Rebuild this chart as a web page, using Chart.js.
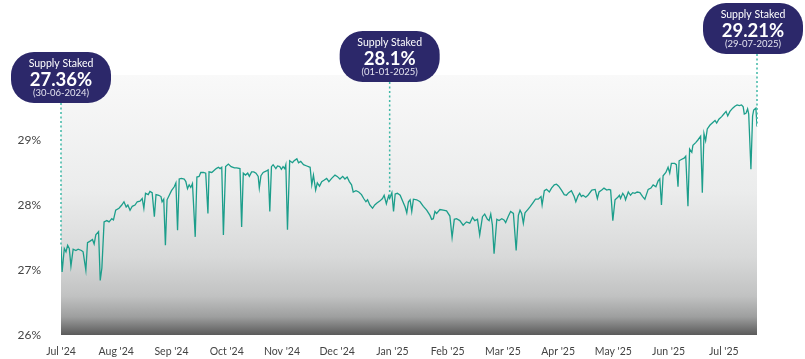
<!DOCTYPE html>
<html>
<head>
<meta charset="utf-8">
<script src="https://cdn.jsdelivr.net/npm/chart.js@4.4.1/dist/chart.umd.min.js"></script>
<style>
  html, body { margin: 0; padding: 0; background: #fff; }
  #stakeChart { display: block; }
</style>
</head>
<body>
<canvas id="stakeChart" width="805" height="359"></canvas>
<script>
const ctx = document.getElementById("stakeChart");

// month ticks along the bottom
const monthLabels = ["Jul '24", "Aug '24", "Sep '24", "Oct '24", "Nov '24", "Dec '24",
  "Jan '25", "Feb '25", "Mar '25", "Apr '25", "May '25", "Jun '25", "Jul '25"];

// position of each reading on the month axis (0 = Jul '24)
const monthOffset = [
  0, 0.02, 0.06, 0.09, 0.12, 0.15, 0.18, 0.22, 0.27, 0.31, 0.37, 0.40, 0.45, 0.48, 0.52, 0.57, 0.60, 0.63, 0.68, 0.71,
  0.74, 0.78, 0.83, 0.87, 0.92, 0.95, 0.99, 1.05, 1.10, 1.14, 1.18, 1.21, 1.25, 1.29, 1.34, 1.38, 1.43, 1.47, 1.50, 1.53,
  1.58, 1.61, 1.65, 1.69, 1.72, 1.77, 1.81, 1.83, 1.86, 1.89, 1.92, 1.96, 2.00, 2.05, 2.08, 2.11, 2.14, 2.18, 2.23, 2.26,
  2.29, 2.32, 2.35, 2.38, 2.43, 2.46, 2.50, 2.53, 2.58, 2.62, 2.66, 2.68, 2.73, 2.77, 2.81, 2.85, 2.88, 2.91, 2.94, 2.98,
  3.03, 3.08, 3.14, 3.18, 3.24, 3.27, 3.30, 3.34, 3.38, 3.41, 3.45, 3.49, 3.53, 3.57, 3.59, 3.62, 3.66, 3.71, 3.75, 3.78,
  3.81, 3.84, 3.89, 3.92, 3.96, 3.99, 4.02, 4.05, 4.07, 4.10, 4.14, 4.19, 4.22, 4.27, 4.30, 4.34, 4.39, 4.45, 4.51, 4.54,
  4.57, 4.61, 4.64, 4.68, 4.72, 4.76, 4.81, 4.85, 4.90, 4.96, 5.00, 5.05, 5.10, 5.14, 5.18, 5.22, 5.26, 5.29, 5.34, 5.39,
  5.44, 5.48, 5.52, 5.55, 5.59, 5.64, 5.68, 5.72, 5.77, 5.82, 5.85, 5.89, 5.93, 5.95, 5.99, 6.02, 6.05, 6.09, 6.14, 6.19,
  6.23, 6.26, 6.29, 6.32, 6.35, 6.38, 6.44, 6.50, 6.56, 6.62, 6.68, 6.71, 6.74, 6.77, 6.80, 6.86, 6.92, 6.98, 7.04, 7.08,
  7.12, 7.16, 7.22, 7.28, 7.34, 7.40, 7.45, 7.49, 7.54, 7.58, 7.63, 7.67, 7.72, 7.75, 7.78, 7.81, 7.84, 7.89, 7.93, 7.98,
  8.02, 8.05, 8.10, 8.14, 8.19, 8.24, 8.28, 8.31, 8.34, 8.37, 8.40, 8.45, 8.49, 8.54, 8.59, 8.64, 8.69, 8.71, 8.75, 8.79,
  8.84, 8.88, 8.93, 8.97, 9.01, 9.06, 9.11, 9.15, 9.19, 9.24, 9.29, 9.32, 9.36, 9.39, 9.42, 9.45, 9.50, 9.54, 9.61, 9.67,
  9.71, 9.74, 9.79, 9.83, 9.88, 9.92, 9.95, 9.99, 10.03, 10.08, 10.11, 10.13, 10.17, 10.20, 10.22, 10.27, 10.31, 10.35, 10.39, 10.43,
  10.48, 10.53, 10.57, 10.63, 10.68, 10.72, 10.77, 10.81, 10.84, 10.87, 10.90, 10.95, 10.99, 11.02, 11.05, 11.11, 11.14, 11.17, 11.19, 11.23,
  11.28, 11.31, 11.35, 11.38, 11.42, 11.44, 11.49, 11.53, 11.58, 11.61, 11.64, 11.67, 11.70, 11.75, 11.80, 11.84, 11.87, 11.91, 11.96, 12.00,
  12.04, 12.07, 12.11, 12.16, 12.20, 12.24, 12.28, 12.32, 12.35, 12.37, 12.40, 12.43, 12.45, 12.49, 12.52, 12.54, 12.58, 12.60
];

// share of supply staked, in %
const staked = [
  27.36, 26.97, 27.33, 27.28, 27.38, 27.33, 27.06, 27.32, 27.30, 27.32, 27.30, 27.28, 27.00, 27.42, 27.44, 27.47, 27.40, 27.54, 27.59, 26.84,
  27.03, 27.74, 27.76, 27.74, 27.79, 27.77, 27.92, 27.95, 28.00, 28.05, 27.97, 28.00, 27.92, 27.98, 28.00, 28.05, 28.06, 28.10, 27.95, 28.18,
  28.16, 28.21, 28.19, 27.82, 28.16, 28.15, 28.13, 28.05, 28.09, 27.38, 28.08, 28.15, 28.22, 28.28, 28.34, 27.61, 28.40, 28.41, 28.40, 28.36,
  28.25, 28.31, 28.27, 28.33, 27.51, 28.43, 28.44, 28.50, 28.50, 28.49, 27.87, 28.51, 28.50, 28.53, 28.56, 28.58, 28.56, 28.58, 27.54, 28.59,
  28.63, 28.59, 28.57, 28.57, 28.56, 27.66, 28.49, 28.46, 28.49, 28.44, 28.51, 28.51, 28.49, 28.44, 28.26, 28.45, 28.50, 28.52, 28.54, 27.90,
  28.59, 28.62, 28.56, 28.60, 28.59, 28.55, 28.59, 28.56, 28.62, 27.62, 28.68, 28.65, 28.68, 28.71, 28.65, 28.67, 28.62, 28.60, 28.58, 28.31,
  28.46, 28.23, 28.34, 28.29, 28.36, 28.38, 28.41, 28.36, 28.41, 28.46, 28.44, 28.40, 28.44, 28.40, 28.43, 28.36, 28.31, 28.20, 28.22, 28.20,
  28.16, 28.10, 28.05, 28.08, 28.00, 27.95, 28.00, 28.03, 28.06, 28.10, 28.15, 28.02, 28.14, 28.10, 28.19, 27.90, 28.17, 28.18, 28.15, 28.05,
  27.97, 27.88, 28.05, 28.08, 27.90, 28.09, 28.08, 28.05, 27.98, 27.92, 27.84, 27.78, 27.79, 27.90, 27.87, 27.93, 27.92, 27.91, 27.83, 27.50,
  27.78, 27.79, 27.76, 27.69, 27.74, 27.72, 27.81, 27.76, 27.78, 27.54, 27.82, 27.86, 27.78, 27.76, 27.86, 27.69, 27.25, 27.78, 27.76, 27.79,
  27.77, 27.73, 27.83, 27.90, 27.87, 27.30, 27.84, 27.92, 27.87, 27.72, 27.88, 27.93, 27.97, 28.03, 28.09, 28.09, 28.13, 28.00, 28.22, 28.24,
  28.20, 28.26, 28.31, 28.32, 28.29, 28.23, 28.16, 28.15, 28.19, 28.22, 28.13, 28.05, 28.14, 28.18, 28.13, 28.15, 28.12, 28.15, 28.23, 28.24,
  28.10, 28.20, 28.23, 28.26, 28.23, 28.24, 28.23, 27.76, 28.08, 28.12, 28.15, 28.10, 28.18, 28.14, 28.08, 28.20, 28.15, 28.19, 28.18, 28.20,
  28.19, 28.13, 28.09, 28.24, 28.26, 28.31, 28.28, 28.37, 28.40, 28.00, 28.45, 28.50, 28.58, 28.49, 28.64, 28.64, 28.62, 28.28, 28.68, 28.70,
  28.72, 28.75, 27.98, 28.86, 28.81, 28.92, 28.96, 29.00, 29.06, 28.19, 29.10, 28.99, 29.17, 29.23, 29.27, 29.30, 29.26, 29.32, 29.36, 29.40,
  29.44, 29.37, 29.44, 29.49, 29.52, 29.54, 29.53, 29.54, 29.51, 29.40, 29.41, 29.48, 29.40, 28.55, 29.37, 29.46, 29.49, 29.21
];

// highlighted readings
const calloutAt = [0, 5.95, 12.60];
const calloutDates = ["30-06-2024", "01-01-2025", "29-07-2025"];

const points = monthOffset.map((x, i) => ({ x: x, y: staked[i] }));

const FONT = "'Lato', 'Open Sans', sans-serif";

// grey wash behind the plot
const areaBackground = {
  id: 'areaBackground',
  beforeDraw(chart) {
    const { ctx, chartArea: a } = chart;
    const g = ctx.createLinearGradient(0, a.top, 0, a.bottom);
    g.addColorStop(0, '#f9f9f9');
    g.addColorStop(0.45, '#ebecec');
    g.addColorStop(0.7, '#d8d9d9');
    g.addColorStop(0.85, '#c1c2c2');
    g.addColorStop(0.93, '#9e9f9f');
    g.addColorStop(1, '#5a5a5a');
    ctx.save();
    ctx.fillStyle = g;
    ctx.fillRect(a.left, a.top, a.right - a.left, a.bottom - a.top);
    ctx.restore();
  }
};

// pill labels with a dotted drop line to the point
const callouts = {
  id: 'callouts',
  afterDraw(chart, args, opts) {
    const { ctx } = chart;
    const xs = chart.scales.x, ys = chart.scales.y;
    const w = 100, h = 51;
    calloutAt.forEach((pos, k) => {
      const i = monthOffset.indexOf(pos);
      const v = staked[i];
      const px = xs.getPixelForValue(pos);
      const py = ys.getPixelForValue(v);
      const top = opts.tops[k];
      let left = px - w / 2;
      if (left + w > chart.width - 2) left = chart.width - 2 - w;
      if (left < 2) left = 2;
      const cx = left + w / 2;

      ctx.save();
      ctx.strokeStyle = '#3fb8a6';
      ctx.lineWidth = 1.5;
      ctx.setLineDash([2, 2.5]);
      ctx.beginPath();
      ctx.moveTo(px, top + h);
      ctx.lineTo(px, py);
      ctx.stroke();
      ctx.setLineDash([]);

      ctx.fillStyle = '#2c286a';
      ctx.beginPath();
      ctx.roundRect(left, top, w, h, 23);
      ctx.fill();

      ctx.fillStyle = '#ffffff';
      ctx.textAlign = 'center';
      ctx.textBaseline = 'middle';
      ctx.font = '400 10.5px ' + FONT;
      ctx.fillText('Supply Staked', cx, top + 12);
      ctx.font = '700 18.5px ' + FONT;
      ctx.fillText(v + '%', cx, top + 28);
      ctx.font = '400 9.5px ' + FONT;
      ctx.fillStyle = '#e4e3f0';
      ctx.fillText('(' + calloutDates[k] + ')', cx, top + 41);
      ctx.restore();
    });
  }
};

const stakeChart = new Chart(ctx, {
  type: 'line',
  data: {
    datasets: [{
      label: 'Supply Staked (%)',
      data: points,
      borderColor: '#1c9e8b',
      borderWidth: 1.3,
      pointRadius: 0,
      tension: 0,
      fill: false
    }]
  },
  options: {
    responsive: false,
    animation: false,
    layout: { padding: { top: 75, right: 48, left: 0, bottom: 0 } },
    plugins: {
      legend: { display: false },
      tooltip: { enabled: false },
      callouts: { tops: [52, 31, 3] }
    },
    scales: {
      x: {
        type: 'linear',
        min: 0,
        max: 12.6,
        afterBuildTicks: (s) => { s.ticks = monthLabels.map((_, i) => ({ value: i })); },
        afterFit: (s) => { s.height = 24; },
        grid: { display: false },
        border: { display: false },
        ticks: {
          autoSkip: false,
          maxRotation: 0,
          padding: 2,
          color: '#444',
          font: { family: FONT, size: 10.5 },
          callback: (v) => monthLabels[v]
        }
      },
      y: {
        min: 26,
        max: 30,
        afterFit: (s) => { s.width = 61; },
        grid: { display: false },
        border: { display: false },
        ticks: {
          stepSize: 1,
          padding: 12,
          color: '#444',
          font: { family: FONT, size: 12 },
          callback: (v) => (v === 30 ? '' : v + '%')
        }
      }
    }
  },
  plugins: [areaBackground, callouts]
});
</script>
</body>
</html>
